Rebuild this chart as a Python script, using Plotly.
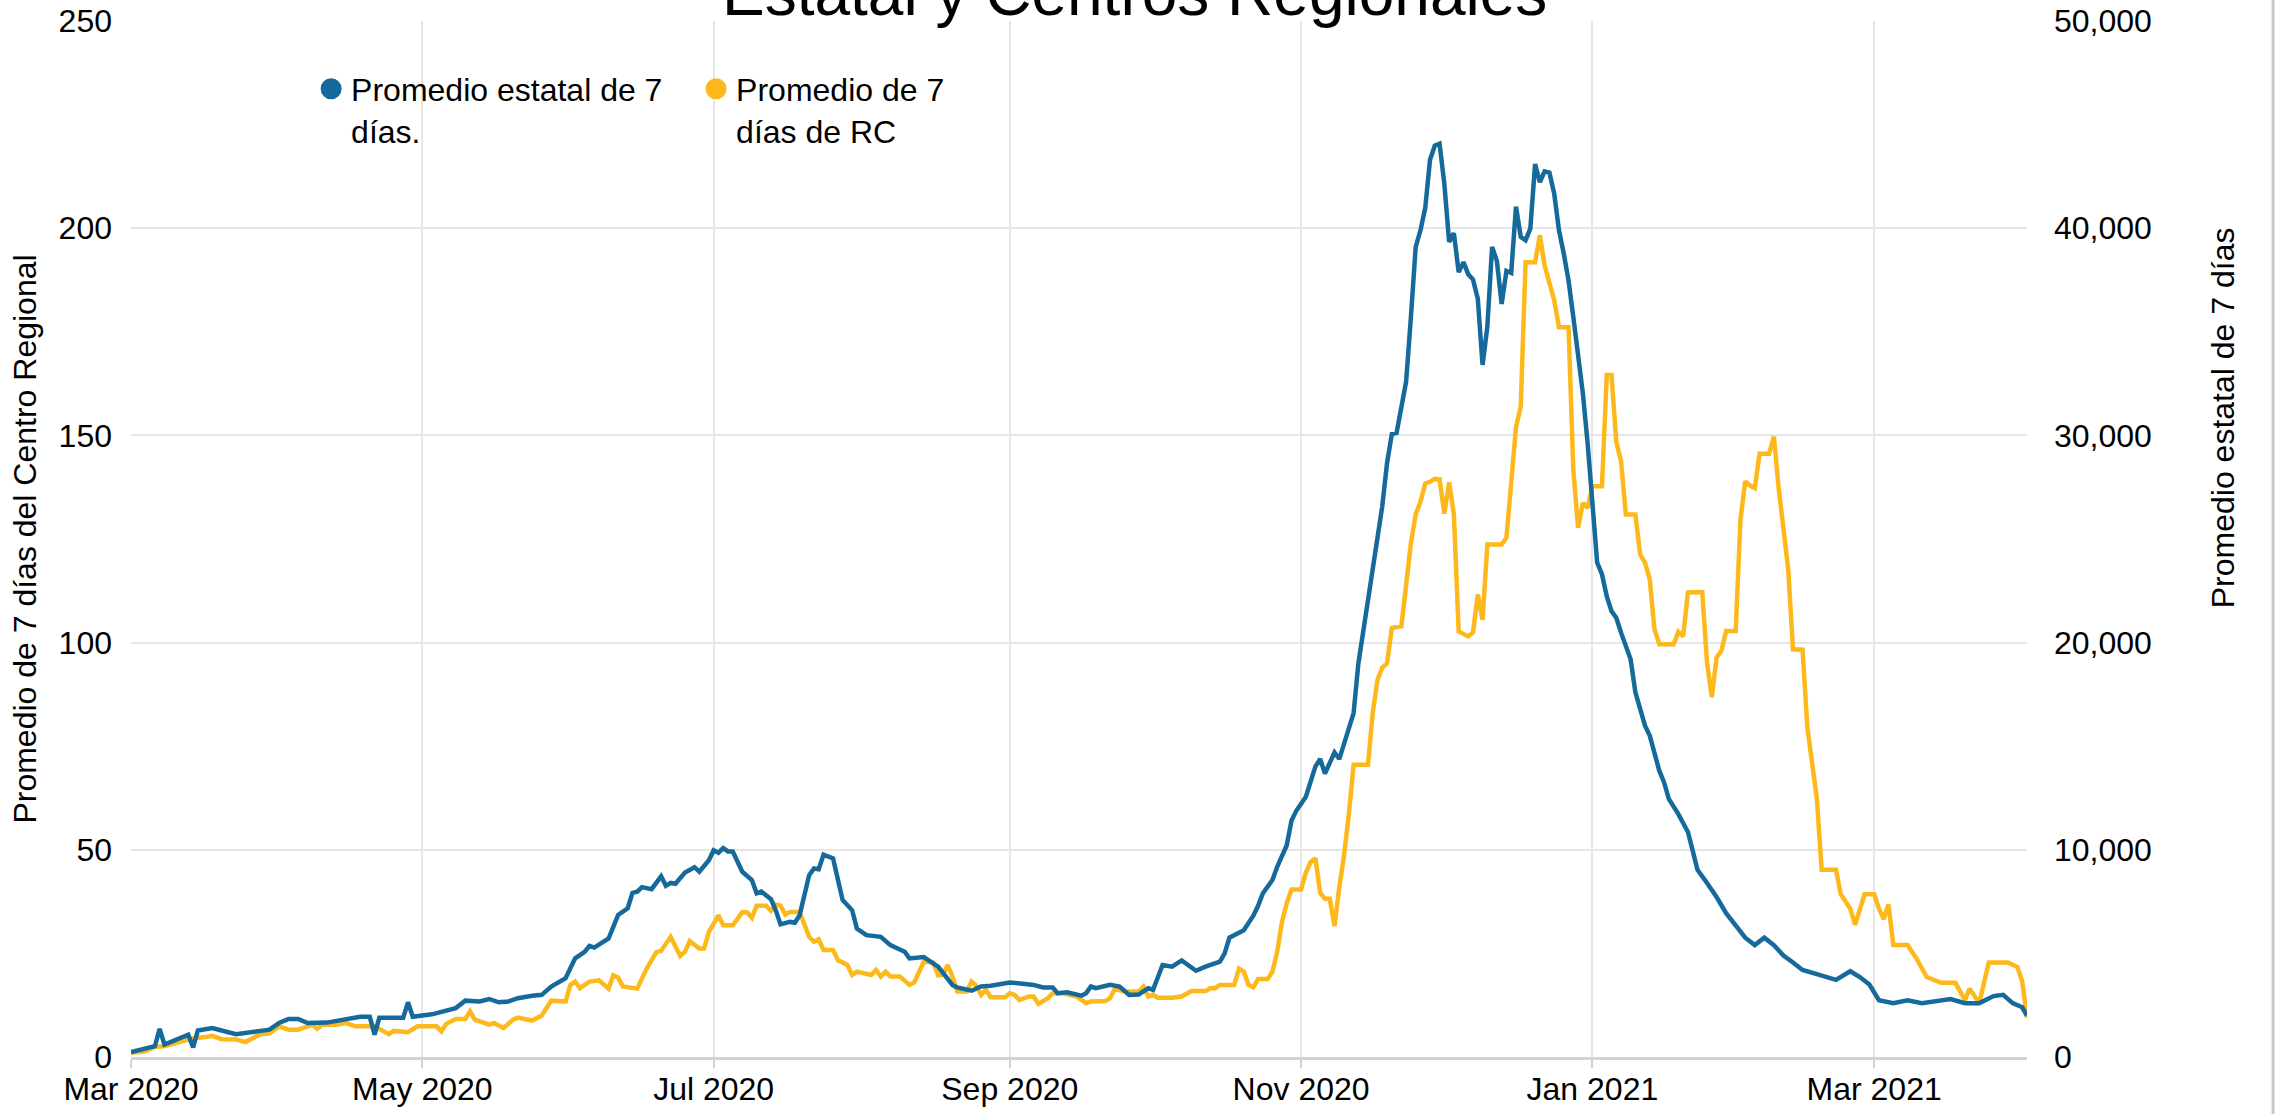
import pandas as pd
import plotly.graph_objects as go

START = "2020-03-01"

# State 7-day average (cases) -- day offsets since START
state_days = [0, 3, 5, 6, 7, 12, 13, 14, 17, 22, 25, 29, 31, 33, 35, 37, 41, 45, 48, 50,
              51, 52, 57, 58, 59, 63, 68, 70, 73, 75, 77, 79, 81, 84, 86, 88, 91, 93, 95, 96,
              97, 100, 102, 104, 105, 106, 107, 109, 111, 112, 113, 114, 116, 118, 119, 121, 122, 123, 124, 125,
              126, 128, 130, 131, 132, 134, 135, 136, 138, 139, 140, 142, 143, 144, 145, 147, 148, 149, 151, 152,
              154, 157, 159, 162, 163, 166, 169, 172, 173, 176, 178, 180, 184, 189, 191, 193, 194, 196, 199, 200,
              201, 202, 205, 207, 209, 211, 213, 214, 216, 218, 220, 222, 223, 225, 228, 229, 230, 233, 235, 236,
              237, 239, 240, 242, 243, 244, 246, 248, 249, 250, 252, 253, 254, 256, 257, 259, 260, 261, 262, 263,
              264, 265, 266, 267, 268, 269, 270, 271, 272, 273, 274, 275, 276, 277, 278, 279, 280, 281, 282, 283,
              284, 285, 286, 287, 288, 289, 290, 291, 292, 293, 294, 295, 296, 297, 298, 299, 300, 301, 302, 303,
              304, 305, 306, 307, 308, 309, 310, 311, 312, 314, 315, 316, 317, 318, 319, 320, 321, 322, 324, 326,
              327, 328, 330, 332, 334, 336, 338, 340, 342, 344, 346, 348, 350, 353, 355, 357, 360, 362, 364, 366,
              369, 372, 375, 381, 384, 387, 390, 392, 394, 396, 397]
state_avg = [240, 400, 520, 1360, 600, 1080, 460, 1280, 1400, 1100, 1200, 1320, 1640, 1840, 1840, 1640, 1660, 1840, 1940, 1940,
             1080, 1900, 1900, 2640, 1940, 2060, 2360, 2720, 2680, 2800, 2640, 2680, 2840, 2960, 3000, 3400, 3800, 4760, 5080, 5360,
             5280, 5720, 6860, 7180, 7920, 7980, 8200, 8100, 8720, 8260, 8400, 8360, 8900, 9160, 8940, 9500, 9980, 9860, 10080, 9920,
             9920, 8940, 8540, 7900, 7980, 7620, 7080, 6400, 6520, 6480, 6840, 8780, 9100, 9060, 9760, 9580, 8620, 7580, 7080, 6200,
             5880, 5800, 5400, 5080, 4760, 4820, 4360, 3480, 3360, 3200, 3400, 3440, 3600, 3480, 3360, 3360, 3080, 3120, 2960, 3080,
             3400, 3320, 3480, 3400, 3000, 3020, 3320, 3240, 4440, 4360, 4660, 4320, 4160, 4360, 4600, 5000, 5760, 6120, 6820, 7300,
             7900, 8540, 9180, 10220, 11420, 11880, 12560, 14020, 14380, 13680, 14700, 14380, 15080, 16600, 19000, 22080, 23700, 25300, 26580, 28660,
             30060, 30120, 31320, 32600, 35720, 39100, 39900, 40980, 43300, 43980, 44080, 42140, 39340, 39760, 37880, 38360, 37780, 37520, 36600, 33400,
             35240, 39100, 38420, 36340, 37940, 37840, 41040, 39580, 39420, 39980, 43100, 42220, 42740, 42680, 41680, 39900, 38780, 37480, 35720, 33960,
             32040, 29620, 26900, 23860, 23300, 22240, 21520, 21200, 20480, 19200, 17600, 16880, 16000, 15520, 14720, 13820, 13260, 12460, 11720, 10860,
             9960, 9040, 8400, 7720, 6940, 6320, 5760, 5400, 5760, 5400, 4900, 4560, 4200, 4000, 3860, 3720, 4140, 3860, 3500, 2740,
             2600, 2740, 2600, 2800, 2600, 2600, 2940, 3000, 2600, 2400, 2000]

# Regional Center 7-day average -- day offsets since START
rc_days = [0, 3, 5, 7, 12, 13, 16, 17, 19, 22, 24, 27, 29, 31, 33, 35, 38, 39, 40, 43,
           45, 47, 51, 54, 55, 58, 60, 64, 65, 66, 68, 70, 71, 72, 75, 76, 78, 80, 81, 84,
           86, 88, 91, 92, 93, 94, 96, 98, 100, 101, 102, 103, 106, 108, 110, 111, 113, 115, 116, 117,
           119, 120, 121, 123, 124, 126, 128, 129, 130, 131, 133, 134, 135, 136, 137, 138, 140, 142, 143, 144,
           145, 147, 148, 150, 151, 152, 155, 156, 157, 158, 159, 161, 163, 164, 166, 168, 169, 170, 171, 172,
           173, 175, 176, 177, 178, 179, 180, 183, 184, 185, 186, 188, 189, 190, 192, 193, 195, 197, 198, 200,
           201, 204, 205, 206, 208, 211, 212, 213, 214, 215, 218, 220, 222, 225, 226, 227, 228, 231, 232, 233,
           234, 235, 236, 238, 239, 240, 241, 242, 243, 245, 246, 247, 248, 249, 250, 251, 252, 253, 254, 255,
           256, 259, 260, 261, 262, 263, 264, 266, 267, 268, 269, 270, 271, 272, 273, 274, 275, 276, 277, 278,
           280, 281, 282, 283, 284, 287, 288, 289, 290, 291, 292, 294, 295, 296, 298, 299, 301, 302, 303, 304,
           305, 306, 308, 309, 310, 311, 312, 313, 315, 316, 317, 318, 319, 320, 323, 324, 325, 326, 329, 330,
           331, 332, 333, 334, 336, 337, 338, 339, 340, 341, 343, 344, 345, 347, 348, 350, 351, 353, 354, 357,
           358, 360, 361, 363, 365, 366, 367, 368, 369, 372, 374, 376, 379, 382, 384, 385, 387, 388, 389, 393,
           395, 396, 397]
rc_avg = [1.0, 1.4, 2.5, 2.6, 4.2, 4.5, 4.9, 5.1, 4.3, 4.2, 3.6, 5.5, 5.7, 7.4, 6.6, 6.6, 7.8, 6.8, 7.8, 7.8,
          8.2, 7.4, 7.4, 5.5, 6.3, 6.0, 7.4, 7.4, 6.2, 8.0, 9.2, 9.2, 11.0, 9.0, 7.8, 8.2, 7.0, 9.0, 9.5, 8.8,
          10.0, 13.6, 13.4, 17.4, 18.2, 16.6, 18.2, 18.5, 16.5, 19.7, 19.2, 17.0, 16.5, 21.4, 25.3, 25.6, 29.0, 24.4, 25.4, 28.0,
          26.2, 26.2, 30.2, 34.2, 31.8, 31.8, 34.9, 34.9, 33.6, 36.5, 36.5, 35.3, 36.8, 36.5, 34.4, 35.0, 35.0, 29.0, 27.8, 28.4,
          25.8, 25.8, 23.4, 22.2, 19.8, 20.6, 19.8, 21.0, 19.4, 20.6, 19.4, 19.4, 17.4, 18.0, 23.0, 22.8, 19.7, 19.8, 22.2, 19.4,
          15.8, 15.8, 18.2, 17.2, 15.0, 16.2, 14.4, 14.4, 15.4, 15.0, 13.8, 14.6, 14.6, 12.8, 14.2, 15.4, 15.4, 15.0, 14.6, 13.0,
          13.4, 13.5, 14.2, 16.4, 15.8, 15.8, 17.0, 14.6, 15.0, 14.3, 14.3, 14.6, 15.9, 15.9, 16.6, 16.6, 17.4, 17.4, 21.3, 20.6,
          17.4, 16.8, 18.8, 18.8, 20.6, 25.4, 32.6, 37.1, 40.4, 40.4, 44.5, 47.0, 48.0, 39.6, 38.2, 38.2, 31.6, 41.0, 48.7, 58.6,
          70.5, 70.5, 83.0, 91.0, 94.0, 95.0, 103.5, 104.0, 115.0, 124.0, 131.0, 134.0, 138.4, 138.8, 139.5, 139.4, 131.1, 138.7, 130.9, 102.7,
          101.5, 102.5, 111.6, 105.5, 123.7, 123.7, 125.3, 140.0, 152.0, 157.0, 191.8, 191.8, 198.3, 191.0, 182.6, 176.1, 176.1, 141.7, 127.7, 133.7,
          132.5, 137.7, 137.7, 164.6, 164.6, 148.5, 143.7, 130.9, 130.9, 121.3, 119.3, 115.3, 103.2, 99.6, 99.6, 102.6, 101.5, 112.1, 112.2, 95.2,
          86.8, 96.4, 98.0, 102.8, 102.8, 129.7, 138.9, 137.9, 137.3, 145.6, 145.6, 149.7, 137.3, 117.7, 98.4, 98.3, 79.6, 62.3, 45.2, 45.2,
          39.3, 35.8, 31.9, 39.3, 39.3, 35.8, 33.3, 36.8, 27.0, 27.0, 23.5, 19.3, 17.9, 17.9, 13.7, 16.5, 13.0, 17.9, 22.8, 22.8,
          21.7, 18.2, 9.5]

TITLE = "Estatal y Centros Regionales"
NAME_STATE = "Promedio estatal de 7<br>días."
NAME_RC = "Promedio de 7<br>días de RC"
Y1_TITLE = "Promedio de 7 días del Centro Regional"
Y2_TITLE = "Promedio estatal de 7 días"

BLUE = "#156a9b"
GOLD = "#fdb81b"
FONT = "Arial, 'Liberation Sans', sans-serif"

base = pd.Timestamp(START)
state_dates = base + pd.to_timedelta(state_days, unit="D")
rc_dates = base + pd.to_timedelta(rc_days, unit="D")

fig = go.Figure()
fig.add_trace(go.Scatter(x=rc_dates, y=rc_avg, mode="lines", line=dict(color=GOLD, width=4.5),
                         yaxis="y", showlegend=False, name="Promedio de 7 días de RC"))
fig.add_trace(go.Scatter(x=state_dates, y=state_avg, mode="lines", line=dict(color=BLUE, width=4.5),
                         yaxis="y2", showlegend=False, name="Promedio estatal de 7 días."))
# legend entries (circle markers)
fig.add_trace(go.Scatter(x=[None], y=[None], mode="markers", name=NAME_STATE,
                         marker=dict(color=BLUE, size=16, symbol="circle",
                                     line=dict(color=BLUE, width=5))))
fig.add_trace(go.Scatter(x=[None], y=[None], mode="markers", name=NAME_RC,
                         marker=dict(color=GOLD, size=16, symbol="circle",
                                     line=dict(color=GOLD, width=5))))

grid = "#e6e6e6"
fig.update_layout(
    width=2283, height=1114,
    paper_bgcolor="white", plot_bgcolor="white",
    margin=dict(l=131, r=256, t=21, b=57, autoexpand=False),
    font=dict(family=FONT, color="black"),
    title=dict(text=TITLE, x=0.497, xanchor="center", xref="container",
               y=1.0, yanchor="bottom", yref="container", pad=dict(b=-15),
               font=dict(size=64, color="black", family=FONT)),
    legend=dict(orientation="h", x=0.095, y=0.961, xanchor="left", yanchor="top",
                font=dict(size=32, color="black"), valign="top", entrywidth=340,
                bgcolor="rgba(0,0,0,0)", itemsizing="trace"),
    xaxis=dict(type="date", range=["2020-03-01", "2021-04-02"],
               tick0="2020-03-01", dtick="M2", tickformat="%b %Y",
               showgrid=True, gridcolor=grid, gridwidth=2,
               ticks="outside", ticklen=8, tickwidth=2, tickcolor="#d3d3d3",
               showline=True, linecolor="#d3d3d3", linewidth=3,
               tickfont=dict(size=32, color="black"), ticklabelstandoff=-6,
               zeroline=False, automargin=False),
    yaxis=dict(range=[0, 250], dtick=50, showgrid=True, gridcolor=grid, gridwidth=2,
               zeroline=False, tickfont=dict(size=32, color="black"), ticklabelstandoff=18,
               automargin=False,
               title=dict(text=Y1_TITLE, font=dict(size=32, color="black"), standoff=12)),
    yaxis2=dict(range=[0, 50000], dtick=10000, tickformat=",", overlaying="y", side="right",
                showgrid=False, zeroline=False, tickfont=dict(size=32, color="black"),
                ticklabelstandoff=26, automargin=False),
)

fig.add_annotation(text=Y2_TITLE, xref="paper", yref="paper", x=1.1034, y=0.6166,
                   textangle=-90, showarrow=False, font=dict(size=32, color="black"),
                   xanchor="center", yanchor="middle")

fig.add_shape(type="line", xref="paper", yref="paper", x0=1.1298, x1=1.1298, y0=-0.06, y1=1.03,
              line=dict(color="#c8c8c8", width=3))

fig.write_html("out.html", config={"displayModeBar": False},
               post_script="document.body.style.margin='0';")
